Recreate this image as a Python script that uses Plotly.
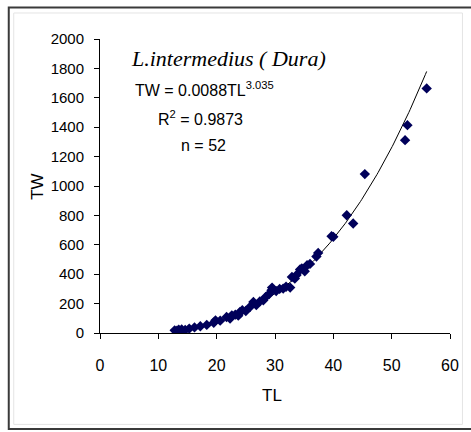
import numpy as np
import plotly.graph_objects as go

# Data
TL = [12.8, 13.2, 13.5, 14.0, 14.6, 15.3, 16.2, 17.2, 18.3, 19.5,
      19.8, 20.6, 21.7, 22.3, 22.6, 23.2, 23.7, 24.0, 24.4, 25.0,
      25.7, 26.3, 26.8, 27.4, 28.0, 28.4, 29.0, 29.4, 29.5, 30.2,
      30.8, 31.4, 31.9, 32.6, 32.9, 33.4, 33.7, 34.3, 34.6, 35.1,
      35.5, 36.0, 37.4, 37.1, 39.7, 40.0, 42.3, 43.4, 45.4, 52.3,
      52.7, 56.0]
TW = [18, 16, 22, 24, 20, 30, 38, 46, 55, 70,
      86, 84, 109, 98, 120, 125, 118, 143, 155, 150,
      177, 211, 190, 215, 223, 245, 265, 291, 309, 285,
      300, 302, 315, 309, 381, 370, 395, 432, 439, 420,
      461, 470, 545, 520, 658, 654, 801, 745, 1081, 1312,
      1414, 1664]

# Power trendline shown on the chart: TW = a * TL^b
fit_a = 0.0088
fit_b = 3.035
fit_range = [12.5, 56.0]

x_ticks = [0, 10, 20, 30, 40, 50, 60]
y_ticks = [0, 200, 400, 600, 800, 1000, 1200, 1400, 1600, 1800, 2000]

xs = np.linspace(fit_range[0], fit_range[1], 200)
ys = fit_a * xs ** fit_b

W, H = 471, 432
L, R, T, B = 99.5, 20.5, 39, 99.3
pw, ph = W - L - R, H - T - B

def px(x):
    return (x - L) / pw

def py(y):
    return (H - B - y) / ph

sans = "Liberation Sans Narrow, Arial Narrow, Liberation Sans, Arial, sans-serif"

fig = go.Figure()
fig.add_trace(go.Scatter(x=xs, y=ys, mode="lines",
                         line=dict(color="black", width=1), hoverinfo="skip",
                         showlegend=False))
fig.add_trace(go.Scatter(x=TL, y=TW, mode="markers",
                         marker=dict(symbol="diamond", size=8, color="#00005a",
                                     line=dict(width=0)),
                         showlegend=False))

fig.update_layout(
    width=W, height=H, autosize=False,
    margin=dict(l=L, r=R, t=T, b=B, pad=0),
    paper_bgcolor="white", plot_bgcolor="white",
    font=dict(family=sans, size=15, color="black"),
    xaxis=dict(range=[0, 60], tickvals=x_ticks, ticktext=[str(v) for v in x_ticks],
               showline=True, linecolor="black", linewidth=1,
               ticks="outside", ticklen=5, tickcolor="black", tickwidth=1,
               showgrid=False, zeroline=False, ticklabelstandoff=13,
               tickfont=dict(family=sans, size=16)),
    yaxis=dict(range=[0, 2000], tickvals=y_ticks, ticktext=[str(v) for v in y_ticks],
               showline=True, linecolor="black", linewidth=1,
               ticks="outside", ticklen=5, tickcolor="black", tickwidth=1,
               showgrid=False, zeroline=False, ticklabelstandoff=7,
               tickfont=dict(family=sans, size=15)),
)

# axis titles
fig.add_annotation(xref="paper", yref="paper", x=px(272), y=py(395),
                   text="TL", showarrow=False, xanchor="center", yanchor="middle",
                   font=dict(family=sans, size=17))
fig.add_annotation(xref="paper", yref="paper", x=px(36), y=py(187),
                   text="TW", showarrow=False, textangle=-90,
                   xanchor="center", yanchor="middle",
                   font=dict(family=sans, size=17))

# chart labels
fig.add_annotation(xref="paper", yref="paper", x=px(228), y=py(58),
                   text="<i>L.intermedius ( Dura)</i>", showarrow=False,
                   xanchor="center", yanchor="middle",
                   font=dict(family="Liberation Serif, Times New Roman, serif",
                             size=22))
fig.add_annotation(xref="paper", yref="paper", x=px(204), y=py(89),
                   text="TW = 0.0088TL<sup>3.035</sup>", showarrow=False,
                   xanchor="center", yanchor="middle",
                   font=dict(family=sans, size=16))
fig.add_annotation(xref="paper", yref="paper", x=px(200), y=py(118),
                   text="R<sup>2</sup> = 0.9873", showarrow=False,
                   xanchor="center", yanchor="middle",
                   font=dict(family=sans, size=16))
fig.add_annotation(xref="paper", yref="paper", x=px(203), y=py(145),
                   text="n = 52", showarrow=False,
                   xanchor="center", yanchor="middle",
                   font=dict(family=sans, size=16))

# outer frame of the chart
fig.add_shape(type="rect", xref="paper", yref="paper",
              x0=px(13), x1=px(463), y0=py(424), y1=py(13),
              line=dict(color="#e4e4e4", width=1), layer="below")
fig.add_shape(type="rect", xref="paper", yref="paper",
              x0=px(8), x1=px(485), y0=py(428.5), y1=py(7.5),
              line=dict(color="#3a3a3a", width=2), layer="above")

fig.write_html("out.html")
